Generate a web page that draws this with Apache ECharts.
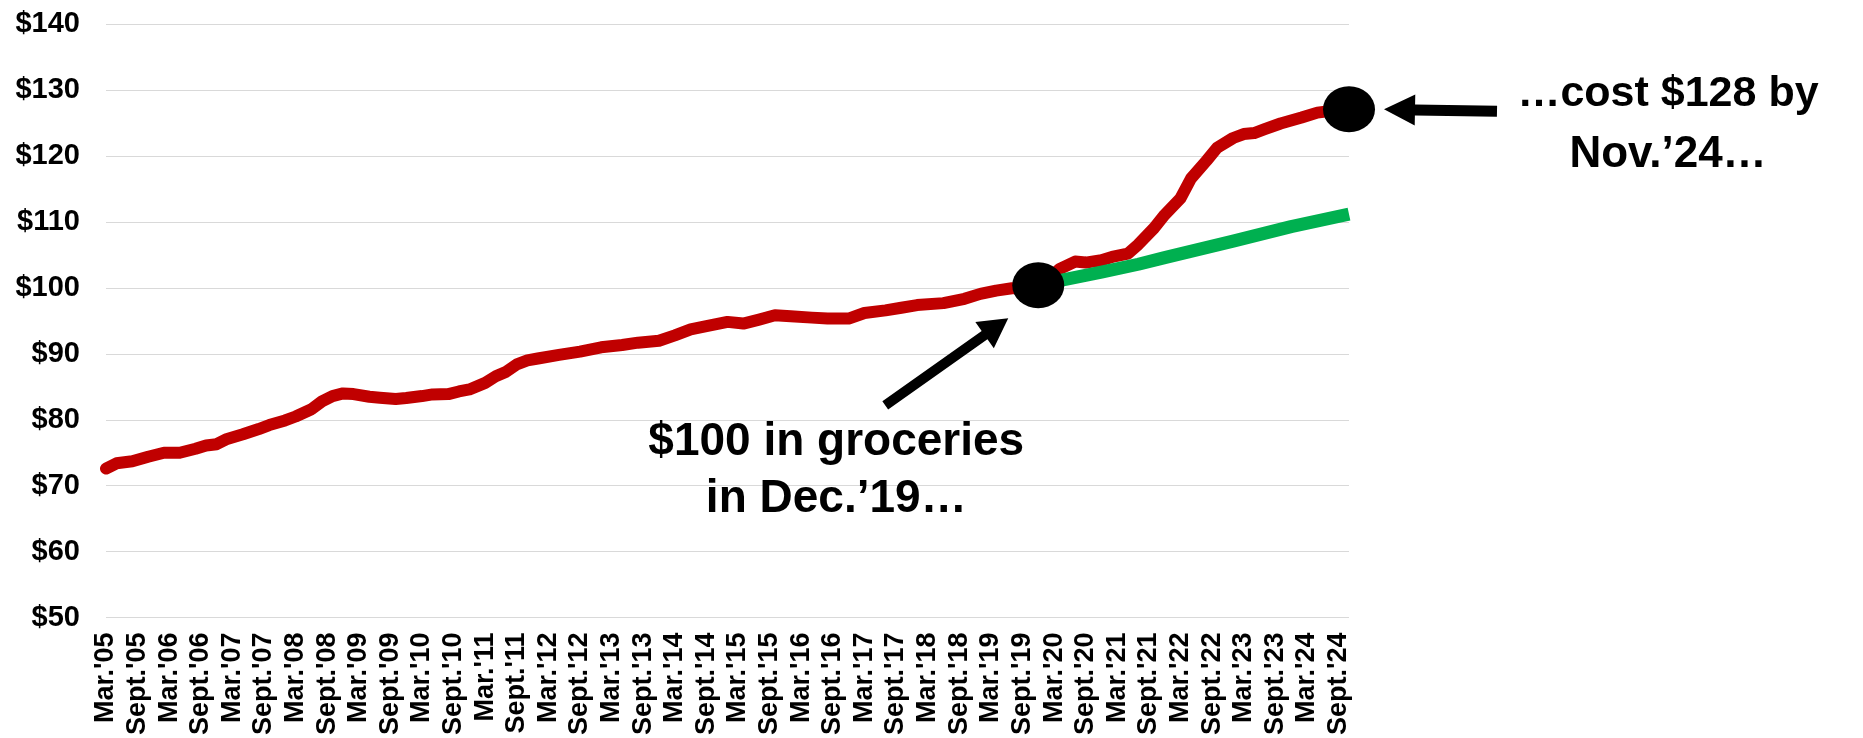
<!DOCTYPE html>
<html>
<head>
<meta charset="utf-8">
<script src="https://cdn.jsdelivr.net/npm/echarts@6/dist/echarts.min.js"></script>
<style>
html,body{margin:0;padding:0;background:#fff;overflow:hidden;}
#c{width:1863px;height:738px;}
</style>
</head>
<body>
<div id="c"></div>
<script>
// ---- Tick labels (every 6 months, starting Mar. 2005) ----
const tickLabels = [
  "Mar.'05","Sept.'05","Mar.'06","Sept.'06","Mar.'07","Sept.'07","Mar.'08","Sept.'08",
  "Mar.'09","Sept.'09","Mar.'10","Sept.'10","Mar.'11","Sept.'11","Mar.'12","Sept.'12",
  "Mar.'13","Sept.'13","Mar.'14","Sept.'14","Mar.'15","Sept.'15","Mar.'16","Sept.'16",
  "Mar.'17","Sept.'17","Mar.'18","Sept.'18","Mar.'19","Sept.'19","Mar.'20","Sept.'20",
  "Mar.'21","Sept.'21","Mar.'22","Sept.'22","Mar.'23","Sept.'23","Mar.'24","Sept.'24"
];

// ---- Grocery cost of $100 (Dec.'19) basket; x = months since Mar.'05 ----
const redMonths = [0,2,5,8,11,14,17,19,21,23,26,29,31,34,36,39,41,43,45,47,50,52,55,57,60,62,65,67,69,72,74,76,78,80,82,86,90,94,98,101,105,108,111,114,118,121,124,127,130,134,137,141,144,148,151,154,159,163,166,169,172,177,181,184,186,189,191,194,196,199,201,204,206,209,211,214,216,218,220,223,227,230,233,236];
const redValues = [72.6,73.4,73.7,74.4,75.0,75.0,75.6,76.1,76.3,77.1,77.8,78.6,79.2,79.9,80.5,81.6,82.8,83.6,84.0,83.9,83.5,83.35,83.15,83.3,83.6,83.85,83.9,84.3,84.6,85.6,86.6,87.3,88.4,89.0,89.3,89.85,90.35,91.0,91.35,91.7,92.0,92.8,93.7,94.2,94.85,94.6,95.2,95.85,95.7,95.5,95.35,95.35,96.2,96.6,97.0,97.4,97.7,98.35,99.1,99.6,99.95,100.0,102.85,104.0,103.85,104.2,104.7,105.2,106.6,109.1,111.1,113.6,116.6,119.35,121.3,122.75,123.35,123.5,124.1,124.95,125.85,126.6,126.9,127.0];

// ---- Trend path from Dec.'19 ----
const greenMonths = [177,181,189,196,201,214,225,236];
const greenValues = [100.0,101.1,102.4,103.6,104.6,107.1,109.3,111.2];

// ---- Highlighted points ----
const dotMonths = [177,236];
const dotValues = [100.4,127.1];

const FONT = "'Liberation Sans', Arial, Helvetica, sans-serif";
const pairs = (xs, ys) => xs.map((x, i) => [x, ys[i]]);

const chart = echarts.init(document.getElementById('c'), null, {renderer:'canvas'});
chart.setOption({
  animation:false,
  backgroundColor:'#ffffff',
  grid:{left:106, right:514, top:24.3, bottom:114.7, containLabel:false},
  xAxis:{
    type:'value', min:0, max:236, interval:6,
    axisLine:{show:false}, axisTick:{show:false}, splitLine:{show:false},
    axisLabel:{
      rotate:90, margin:15, fontSize:27, fontWeight:'bold', color:'#000', fontFamily:FONT,
      showMaxLabel:false, showMinLabel:true,
      formatter:function(v){ return (v % 6 === 0 && tickLabels[v/6]) ? tickLabels[v/6] : ''; }
    }
  },
  yAxis:{
    type:'value', min:50, max:140, interval:10,
    axisLine:{show:false}, axisTick:{show:false},
    splitLine:{show:true, lineStyle:{color:'#d9d9d9', width:1.2}},
    axisLabel:{formatter:function(v){return '$'+v;}, fontSize:29, fontWeight:'bold', color:'#000', margin:26, fontFamily:FONT}
  },
  series:[
    {type:'line', data:pairs(redMonths, redValues), showSymbol:false, symbol:'none', clip:false,
     lineStyle:{color:'#C00000', width:12, cap:'round', join:'round'}, z:2},
    {type:'line', data:pairs(greenMonths, greenValues), showSymbol:false, symbol:'none', clip:false,
     lineStyle:{color:'#00B050', width:13, cap:'butt', join:'round'}, z:3},
    {type:'scatter', data:pairs(dotMonths, dotValues), symbol:'circle', symbolSize:[52,46], clip:false,
     itemStyle:{color:'#000', opacity:1}, z:4}
  ]
});

function arrowPoly(tail, tip, shaftW, headL, headW){
  const dx = tip[0]-tail[0], dy = tip[1]-tail[1];
  const L = Math.hypot(dx, dy), ux = dx/L, uy = dy/L, px = -uy, py = ux;
  const bx = tip[0]-ux*headL, by = tip[1]-uy*headL;
  return [
    [tail[0]+px*shaftW/2, tail[1]+py*shaftW/2],
    [bx+px*shaftW/2, by+py*shaftW/2],
    [bx+px*headW/2, by+py*headW/2],
    [tip[0], tip[1]],
    [bx-px*headW/2, by-py*headW/2],
    [bx-px*shaftW/2, by-py*shaftW/2],
    [tail[0]-px*shaftW/2, tail[1]-py*shaftW/2]
  ];
}

const d1 = chart.convertToPixel({gridIndex:0}, [dotMonths[0], dotValues[0]]);
const d2 = chart.convertToPixel({gridIndex:0}, [dotMonths[1], dotValues[1]]);
const off = (p, dx, dy) => [p[0]+dx, p[1]+dy];

const txt = (p, s, size) => ({
  type:'text', x:p[0], y:p[1], z:10,
  style:{text:s, fill:'#000', font:'bold '+size+'px '+FONT, textAlign:'center', textVerticalAlign:'middle'}
});

chart.setOption({
  graphic:[
    {type:'polygon', z:10, shape:{points:arrowPoly(off(d1,-153,120), off(d1,-30,33), 10, 29, 32)}, style:{fill:'#000'}},
    {type:'polygon', z:10, shape:{points:arrowPoly(off(d2,148,2), off(d2,35,0), 11, 31, 31)}, style:{fill:'#000'}},
    txt(off(d1,-202,157), '$100 in groceries', 46),
    txt(off(d1,-202,214), 'in Dec.\u201919\u2026', 46),
    txt(off(d2,319,-15), '\u2026cost $128 by', 43),
    txt(off(d2,319,46), 'Nov.\u201924\u2026', 44)
  ]
});
</script>
</body>
</html>
